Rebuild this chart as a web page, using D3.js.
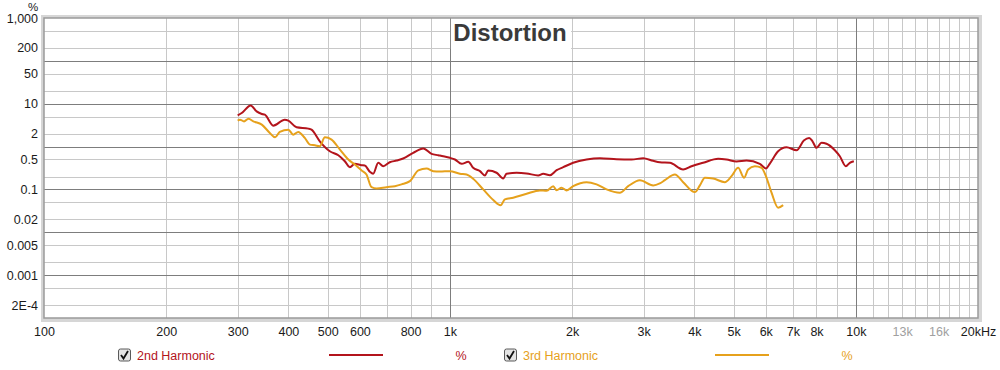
<!DOCTYPE html>
<meta charset="utf-8">
<script src="https://d3js.org/d3.v7.min.js"></script>
<style>
    body { margin: 0; background: #fff; }
    svg { font-family: "Liberation Sans", Arial, sans-serif; }
</style>
<svg id="vis"></svg>
<script>
    // 2nd harmonic, frequency (Hz) and distortion (%)
    let h2Freq = [300, 307, 323, 334, 344, 350, 367, 392, 400, 419, 448, 456, 478, 506, 531, 551, 567, 583, 606, 617,
        635, 647, 666, 685, 711, 739, 767, 812, 860, 901, 936, 963, 1000, 1029, 1069, 1110, 1141, 1186, 1220, 1243,
        1303, 1353, 1379, 1460, 1545, 1650, 1698, 1764, 1832, 1902, 2012, 2171, 2342, 2574, 2803, 2994, 3168, 3289,
        3483, 3755, 3938, 4206, 4580, 4802, 5083, 5380, 5801, 6001, 6140, 6436, 6750, 7144, 7446, 7674, 7822, 8001,
        8232, 8469, 8878, 9134, 9449, 9665, 9888]
    let h2Pct = [5.35, 6.08, 9.12, 6.62, 5.76, 5.55, 3.08, 4.25, 4.03, 2.81, 2.62, 2.48, 1.33, 0.778, 0.628, 0.455, 0.33, 0.396, 0.367, 0.361,
        0.258, 0.232, 0.418, 0.348, 0.431, 0.472, 0.526, 0.713, 0.898, 0.676, 0.628, 0.594, 0.546, 0.499, 0.396, 0.441, 0.32, 0.267, 0.212, 0.277,
        0.245, 0.18, 0.232, 0.245, 0.236, 0.212, 0.232, 0.215, 0.281, 0.33, 0.418, 0.499, 0.535, 0.507, 0.499, 0.535, 0.465, 0.431,
        0.418, 0.292, 0.348, 0.418, 0.518, 0.499, 0.448, 0.472, 0.396, 0.308, 0.402, 0.778, 0.964, 0.82, 1.38, 1.59, 1.33, 0.933,
        1.22, 1.16, 0.82, 0.594, 0.348, 0.418, 0.455]

    // 3rd harmonic
    let h3Freq = [300, 304, 311, 319, 328, 344, 360, 371, 381, 400, 411, 423, 439, 452, 465, 478, 492, 511, 536, 562,
        583, 606, 623, 641, 660, 698, 732, 760, 797, 836, 876, 910, 945, 1000, 1058, 1099, 1141, 1208, 1279, 1333,
        1366, 1432, 1545, 1666, 1730, 1797, 1832, 1884, 1939, 2012, 2171, 2298, 2432, 2622, 2749, 2938, 3168, 3289,
        3385, 3583, 3755, 4013, 4129, 4248, 4451, 4756, 4941, 5130, 5308, 5429, 5640, 5858, 6026, 6200, 6436, 6622]
    let h3Pct = [4.03, 4.25, 3.87, 4.48, 3.87, 3.25, 2.08, 1.64, 2.2, 2.48, 1.9, 2.2, 1.59, 1.11, 1.07, 1.02, 1.64, 1.45, 0.851, 0.499,
        0.381, 0.277, 0.223, 0.113, 0.105, 0.113, 0.119, 0.131, 0.156, 0.277, 0.308, 0.267, 0.262, 0.267, 0.232, 0.223, 0.177, 0.1, 0.0564, 0.0425,
        0.0585, 0.0641, 0.0794, 0.0948, 0.093, 0.119, 0.096, 0.11, 0.0948, 0.119, 0.148, 0.131, 0.1, 0.0838, 0.119, 0.164, 0.124, 0.138,
        0.164, 0.223, 0.148, 0.0866, 0.124, 0.187, 0.18, 0.148, 0.204, 0.32, 0.187, 0.292, 0.348, 0.32, 0.187, 0.0838, 0.0375, 0.0431]

    // axes
    let xGrid = [200, 300, 400, 500, 600, 700, 800, 900, 1000, 2000, 3000, 4000, 5000, 6000, 7000, 8000, 9000,
        10000, 11000, 12000, 13000, 14000, 15000, 16000, 17000, 18000, 19000]
    let xMajor = [1000, 10000]
    let xTicks = [100, 200, 300, 400, 500, 600, 800, 1000, 2000, 3000, 4000, 5000, 6000, 7000, 8000, 10000, 13000, 16000, 20000]
    let xLabels = ['100', '200', '300', '400', '500', '600', '800', '1k', '2k', '3k', '4k', '5k', '6k', '7k', '8k', '10k', '13k', '16k', '20kHz']
    let xFaded = ['13k', '16k']

    let yGrid = [2e-4, 5e-4, 2e-3, 5e-3, 0.02, 0.05, 0.2, 0.5, 2, 5, 20, 50, 200, 500]
    let yMajor = [1e-3, 0.01, 0.1, 1, 10, 100]
    let yTicks = [1000, 200, 50, 10, 2, 0.5, 0.1, 0.02, 0.005, 0.001, 2e-4]
    let yLabels = ['1,000', '200', '50', '10', '2', '0.5', '0.1', '0.02', '0.005', '0.001', '2E-4']

    let series = [
        {name: '2nd Harmonic', color: '#b3141c', freq: h2Freq, pct: h2Pct, legendX: 118},
        {name: '3rd Harmonic', color: '#e6a11c', freq: h3Freq, pct: h3Pct, legendX: 504}
    ]

    var margin = {top: 18, right: 22, bottom: 52, left: 44},
        width = 1000 - margin.left - margin.right,
        height = 370 - margin.top - margin.bottom;

    let root = d3.select('#vis')
        .attr('width', 1000)
        .attr('height', 370)

    let svg = root.append('g')
        .attr('transform', 'translate(' + margin.left + ',' + margin.top + ')')

    var x = d3.scaleLog().domain([100, 20000]).range([0, width])
    var y = d3.scaleLog().domain([1e-4, 1000]).range([height, 0])

    // frame shadow
    svg.append('rect')
        .attr('x', -1).attr('y', -1)
        .attr('width', width + 3).attr('height', height + 3)
        .style('fill', 'none').style('stroke', '#d6d6d6').style('stroke-width', 4)
    svg.append('rect')
        .attr('width', width).attr('height', height)
        .style('fill', '#fff')

    // grid
    function grid(axis, values, color) {
        let g = svg.append('g').call(axis.tickValues(values).tickFormat(''))
        g.select('.domain').remove()
        g.selectAll('line').style('stroke', color).style('shape-rendering', 'crispEdges')
        return g
    }
    grid(d3.axisBottom(x).tickSize(height), xGrid.filter(v => xMajor.indexOf(v) < 0), '#c8c8c8')
    grid(d3.axisLeft(y).tickSize(-width), yGrid, '#c8c8c8')
    grid(d3.axisLeft(y).tickSize(-width), yMajor, '#7d7d7d')
    grid(d3.axisBottom(x).tickSize(height), xMajor, '#7d7d7d')

    // title with white box
    svg.append('rect')
        .attr('x', x(1000) + 1).attr('y', 1)
        .attr('width', x(2000) - x(1000) - 2).attr('height', 30)
        .style('fill', '#fff')
    svg.append('text')
        .attr('x', 510 - margin.left)
        .attr('y', 23)
        .attr('text-anchor', 'middle')
        .style('font-size', '24px')
        .style('font-weight', 'bold')
        .style('fill', '#3a3a3a')
        .text('Distortion')

    // curves
    var line = d3.line()
        .x(d => x(d[0]))
        .y(d => y(d[1]))
        .curve(d3.curveMonotoneX)

    series.forEach(function (s) {
        svg.append('path')
            .datum(d3.zip(s.freq, s.pct))
            .attr('d', line)
            .style('fill', 'none')
            .style('stroke', s.color)
            .style('stroke-width', 2)
            .style('stroke-linejoin', 'round')
    })

    // frame
    svg.append('rect')
        .attr('width', width).attr('height', height)
        .style('fill', 'none').style('stroke', '#9a9a9a').style('stroke-width', 1.5)

    // x labels
    let xa = svg.append('g')
        .attr('transform', 'translate(0,' + height + ')')
        .call(d3.axisBottom(x).tickValues(xTicks).tickSize(0).tickPadding(9)
            .tickFormat((d, i) => xLabels[i]))
    xa.select('.domain').remove()
    xa.selectAll('text')
        .style('font-size', '12.5px')
        .style('font-family', '"Liberation Sans", Arial, sans-serif')
        .style('fill', d => xFaded.indexOf(xLabels[xTicks.indexOf(d)]) >= 0 ? '#a0a0a0' : '#1a1a1a')

    // y labels
    let ya = svg.append('g')
        .call(d3.axisLeft(y).tickValues(yTicks).tickSize(0).tickPadding(6)
            .tickFormat((d, i) => yLabels[i]))
    ya.select('.domain').remove()
    ya.selectAll('text')
        .style('font-size', '12.5px')
        .style('font-family', '"Liberation Sans", Arial, sans-serif')
        .style('fill', '#1a1a1a')

    root.append('text')
        .attr('x', 33).attr('y', 11)
        .attr('text-anchor', 'middle')
        .style('font-size', '11.5px')
        .style('fill', '#1a1a1a')
        .text('%')

    // legend
    series.forEach(function (s) {
        let lg = root.append('g').attr('transform', 'translate(' + s.legendX + ',355)')
        lg.append('rect')
            .attr('x', 0.5).attr('y', -6).attr('width', 12).attr('height', 12).attr('rx', 2)
            .style('fill', '#e4e4e4').style('stroke', '#5a5a5a').style('stroke-width', 1)
        lg.append('path')
            .attr('d', 'M3,0 L5.5,3.5 L10,-4')
            .style('fill', 'none').style('stroke', '#111').style('stroke-width', 1.8)
        lg.append('text')
            .attr('x', 19).attr('y', 4.5)
            .style('font-size', '12.5px')
            .style('fill', s.color)
            .text(s.name)
        lg.append('line')
            .attr('x1', 211).attr('x2', 265)
            .style('stroke', s.color).style('stroke-width', 2)
        lg.append('text')
            .attr('x', 343).attr('y', 4.5)
            .attr('text-anchor', 'middle')
            .style('font-size', '12.5px')
            .style('fill', s.color)
            .text('%')
    })
</script>
